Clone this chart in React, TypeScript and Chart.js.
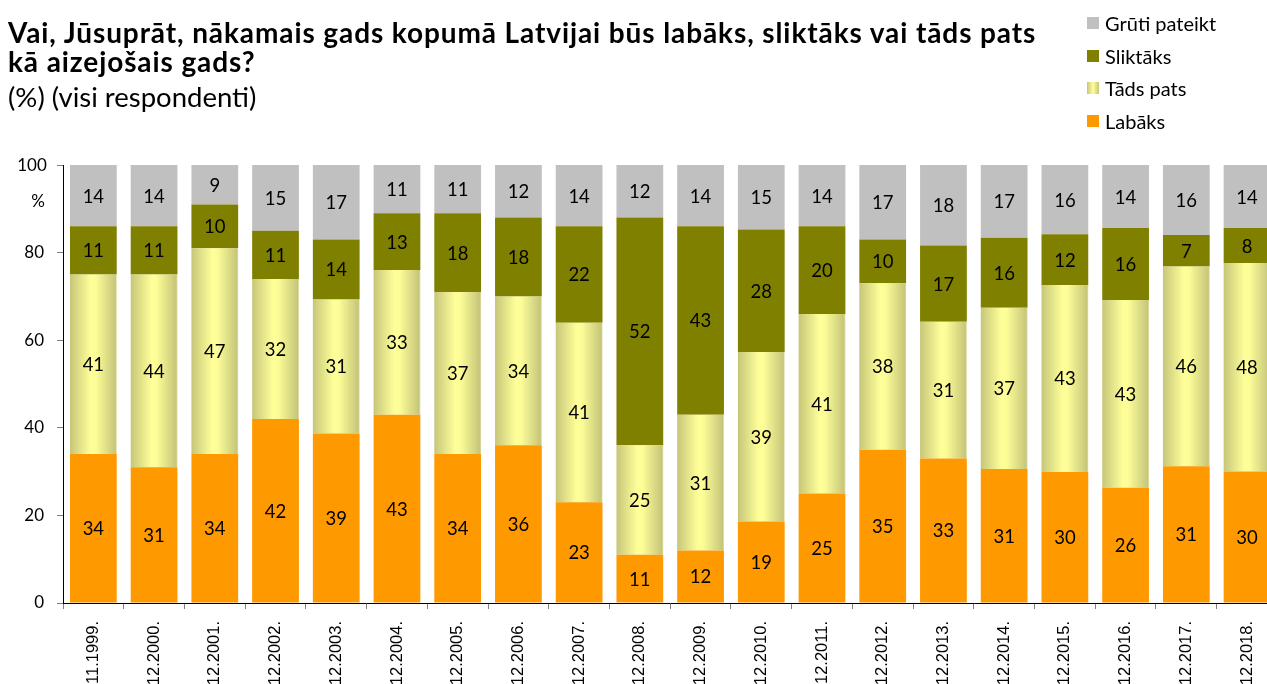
import React, { useEffect, useRef } from "react";
import { Chart, registerables } from "chart.js";

Chart.register(...registerables);

const categories = [
  "11.1999.", "12.2000.", "12.2001.", "12.2002.", "12.2003.", "12.2004.", "12.2005.",
  "12.2006.", "12.2007.", "12.2008.", "12.2009.", "12.2010.", "12.2011.", "12.2012.",
  "12.2013.", "12.2014.", "12.2015.", "12.2016.", "12.2017.", "12.2018.",
];
const labaks = [34, 31, 34, 42, 38.7, 43, 34, 36, 23, 11, 12, 18.6, 25, 35, 33, 30.6, 29.9, 26.3, 31.2, 30];
const tadsPats = [41, 44, 47, 32, 30.6, 33, 37, 34, 41, 25, 31, 38.7, 41, 38, 31.2, 36.8, 42.7, 42.9, 45.6, 47.6];
const sliktaks = [11, 11, 10, 11, 13.7, 13, 18, 18, 22, 52, 43, 28, 20, 10, 17.4, 16, 11.6, 16.4, 7.2, 8];
const gruti = [14, 14, 9, 15, 17, 11, 11, 12, 14, 12, 14, 14.7, 14, 17, 18.4, 16.6, 15.8, 14.4, 16, 14.4];
const yTicks = [0, 20, 40, 60, 80, 100];

const BAR_PCT = 0.77;
const FONT = "Lato, 'Open Sans', sans-serif";

const yellowGradient = (ctx: any) => {
  const chart = ctx.chart;
  const xs = chart.scales?.x;
  if (ctx.type !== "data" || !xs) return "#ffff99";
  const xc = xs.getPixelForValue(ctx.dataIndex);
  const w = (xs.width / categories.length) * BAR_PCT;
  if (!isFinite(xc) || !isFinite(w) || w <= 0) return "#ffff99";
  const g = chart.ctx.createLinearGradient(xc - w / 2, 0, xc + w / 2, 0);
  g.addColorStop(0, "#c6c67a");
  g.addColorStop(0.45, "#ffff99");
  g.addColorStop(0.55, "#fdfd98");
  g.addColorStop(0.97, "#c6c67a");
  g.addColorStop(1, "#e0e0b0");
  return g;
};

const valueLabels = {
  id: "valueLabels",
  afterDatasetsDraw(chart: any) {
    const c = chart.ctx;
    c.save();
    c.font = `18.5px ${FONT}`;
    c.fillStyle = "#000";
    c.textAlign = "center";
    c.textBaseline = "middle";
    chart.data.datasets.forEach((ds: any, i: number) => {
      const meta = chart.getDatasetMeta(i);
      meta.data.forEach((bar: any, j: number) => {
        const p = bar.getProps(["x", "y", "base"], true);
        c.fillText(String(Math.round(ds.data[j])), p.x, (p.y + p.base) / 2 + 1);
      });
    });
    c.restore();
  },
};

export default function App() {
  const ref = useRef<HTMLCanvasElement>(null);

  useEffect(() => {
    if (!ref.current) return;
    const chart = new Chart(ref.current, {
      type: "bar",
      data: {
        labels: categories,
        datasets: [
          { label: "Labāks", data: labaks, backgroundColor: "#ff9900" },
          { label: "Tāds pats", data: tadsPats, backgroundColor: yellowGradient as any },
          { label: "Sliktāks", data: sliktaks, backgroundColor: "#808000" },
          { label: "Grūti pateikt", data: gruti, backgroundColor: "#c0c0c0" },
        ].map((d) => ({ ...d, barPercentage: BAR_PCT, categoryPercentage: 1, borderWidth: 0 })),
      },
      options: {
        responsive: false,
        animation: false,
        devicePixelRatio: 1,
        layout: { padding: { top: 165, right: 22.6, left: 0, bottom: 0 } },
        plugins: { legend: { display: false }, tooltip: { enabled: false } },
        scales: {
          x: {
            stacked: true,
            grid: { display: true, drawOnChartArea: false, drawTicks: true, tickLength: 6, color: "#808080", offset: true },
            border: { display: true, color: "#000", width: 1 },
            ticks: {
              font: { family: "'Liberation Sans', Arial, sans-serif", size: 16.5 },
              color: "#000",
              minRotation: 90,
              maxRotation: 90,
              autoSkip: false,
              padding: 12,
            },
            afterFit: (s: any) => {
              s.height = 81;
            },
          },
          y: {
            stacked: true,
            min: 0,
            max: 100,
            afterBuildTicks: (s: any) => {
              s.ticks = yTicks.map((v) => ({ value: v }));
            },
            ticks: {
              font: { family: FONT, size: 17 },
              color: "#000",
              padding: 13,
              callback: (v: any) => (v === 100 ? "" : String(v)),
            },
            grid: { display: true, drawOnChartArea: false, drawTicks: true, tickLength: 6, color: "#808080" },
            border: { display: true, color: "#000", width: 1 },
            afterFit: (s: any) => {
              s.width = 63;
            },
          },
        },
      },
      plugins: [valueLabels],
    });
    return () => chart.destroy();
  }, []);

  const legend = [
    { label: "Grūti pateikt", bg: "#c0c0c0" },
    { label: "Sliktāks", bg: "#808000" },
    { label: "Tāds pats", bg: "linear-gradient(to right, #c6c67a, #ffff99 50%, #c6c67a)" },
    { label: "Labāks", bg: "#ff9900" },
  ];

  const titleLine = {
    position: "absolute" as const,
    left: 8,
    fontSize: 28,
    fontWeight: 700,
    lineHeight: "34px",
    letterSpacing: "0.9px",
    whiteSpace: "nowrap" as const,
  };

  return (
    <div
      style={{
        position: "fixed",
        left: 0,
        top: 0,
        width: 1267,
        height: 684,
        overflow: "hidden",
        background: "#fff",
        fontFamily: FONT,
        color: "#000",
      }}
    >
      <canvas ref={ref} width={1300} height={684} style={{ position: "absolute", left: 0, top: 0 }} />
      <div style={{ ...titleLine, top: 15 }}>
        Vai, Jūsuprāt, nākamais gads kopumā Latvijai būs labāks, sliktāks vai tāds pats
      </div>
      <div style={{ ...titleLine, top: 44 }}>kā aizejošais gads?</div>
      <div style={{ position: "absolute", left: 8, top: 80, fontSize: 27.5, lineHeight: "33px", whiteSpace: "nowrap" }}>
        (%) (visi respondenti)
      </div>
      <div style={{ position: "absolute", left: 14, top: 154, width: 36, textAlign: "center", fontSize: 17, lineHeight: "22px" }}>
        100
      </div>
      <div style={{ position: "absolute", left: 28, top: 190, width: 20, textAlign: "center", fontSize: 17, lineHeight: "22px" }}>
        %
      </div>
      {legend.map((l, i) => (
        <div
          key={l.label}
          style={{
            position: "absolute",
            left: 1087,
            top: 10 + i * 32.5,
            height: 26,
            display: "flex",
            alignItems: "center",
            whiteSpace: "nowrap",
            fontSize: 20,
          }}
        >
          <span style={{ display: "inline-block", width: 12, height: 12, background: l.bg, marginRight: 6 }} />
          <span>{l.label}</span>
        </div>
      ))}
    </div>
  );
}
